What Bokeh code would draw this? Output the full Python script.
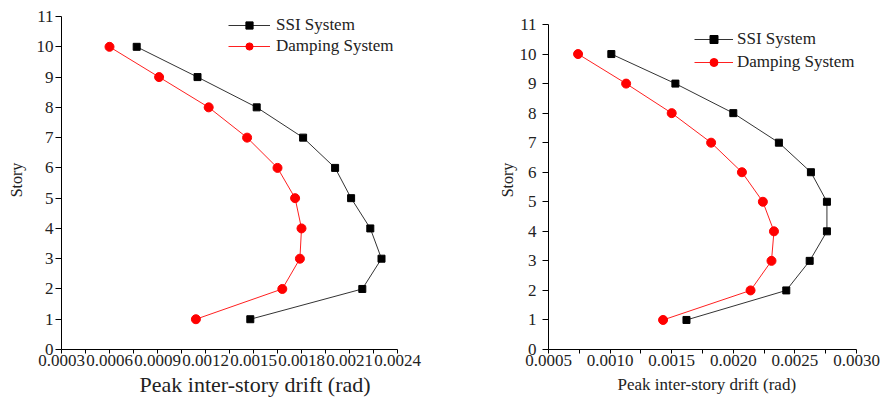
from bokeh.plotting import figure
from bokeh.layouts import row
from bokeh.models import FixedTicker, PrintfTickFormatter, Legend, LegendItem, Range1d, Title
from bokeh.embed import file_html
from bokeh.resources import INLINE

# ---------------- data ----------------
stories = [10, 9, 8, 7, 6, 5, 4, 3, 2, 1]

left_ssi = [0.00077, 0.00115, 0.00152, 0.00181, 0.00201, 0.00211, 0.00223, 0.00230, 0.00218, 0.00148]
left_damp = [0.00060, 0.00091, 0.00122, 0.00146, 0.00165, 0.00176, 0.00180, 0.00179, 0.00168, 0.00114]

right_ssi = [0.00101, 0.00153, 0.00200, 0.00237, 0.00263, 0.00276, 0.00276, 0.00262, 0.00243, 0.00162]
right_damp = [0.00074, 0.00113, 0.00150, 0.00182, 0.00207, 0.00224, 0.00233, 0.00231, 0.00214, 0.00143]

left_xticks = [0.0003, 0.0006, 0.0009, 0.0012, 0.0015, 0.0018, 0.0021, 0.0024]
left_xminor = [0.00045, 0.00075, 0.00105, 0.00135, 0.00165, 0.00195, 0.00225]
right_xticks = [0.0005, 0.0010, 0.0015, 0.0020, 0.0025, 0.0030]
right_xminor = [0.00075, 0.00125, 0.00175, 0.00225, 0.00275]
yticks = [0, 1, 2, 3, 4, 5, 6, 7, 8, 9, 10, 11]

series_names = ["SSI System", "Damping System"]
x_title = "Peak inter-story drift (rad)"
y_title = "Story"

FONT = "Liberation Serif"
TXT = "#222222"


def make_chart(width, border_left, border_right, xr, ytop, xticks, xminor, ssi, damp,
               y_title_standoff, y_label_standoff, title_offset, title_size, title_standoff,
               title_lh, legend_loc, glyph_w, glyph_h, legend_spacing, label_standoff):
    p = figure(width=width, height=398, output_backend="svg", toolbar_location=None,
               x_range=Range1d(*xr), y_range=Range1d(0, ytop),
               min_border_left=border_left, min_border_right=border_right,
               min_border_top=10, min_border_bottom=49)
    p.outline_line_color = None
    p.grid.visible = False
    p.background_fill_color = "white"
    p.border_fill_color = "white"

    # x axis
    xa = p.xaxis[0]
    xa.ticker = FixedTicker(ticks=xticks, minor_ticks=xminor)
    xa.formatter = PrintfTickFormatter(format="%.4f")
    xa.major_tick_out = 4
    xa.major_tick_in = 0
    xa.minor_tick_out = 4
    xa.minor_tick_in = 0
    xa.major_label_standoff = 1
    xa.major_label_text_font = FONT
    xa.major_label_text_font_size = "17px"
    xa.major_label_text_color = TXT
    xa.axis_line_color = "black"
    xa.major_tick_line_color = "black"
    xa.minor_tick_line_color = "black"

    # x title as a below-panel title (offset like the reference)
    t = Title(text=x_title, align="left", offset=title_offset, text_font=FONT,
              text_font_style="normal", text_font_size=title_size, text_color=TXT,
              standoff=title_standoff, text_line_height=title_lh)
    p.add_layout(t, "below")

    # y axis
    ya = p.yaxis[0]
    ya.ticker = FixedTicker(ticks=yticks)
    ya.bounds = (0, 11)
    ya.major_tick_out = 6
    ya.major_tick_in = 0
    ya.minor_tick_line_color = None
    ya.major_label_standoff = y_label_standoff
    ya.major_label_text_font = FONT
    ya.major_label_text_font_size = "17px"
    ya.major_label_text_color = TXT
    ya.axis_label = y_title
    ya.axis_label_text_font = FONT
    ya.axis_label_text_font_style = "normal"
    ya.axis_label_text_font_size = "16px"
    ya.axis_label_text_color = TXT
    ya.axis_label_standoff = y_title_standoff
    ya.axis_line_color = "black"
    ya.major_tick_line_color = "black"

    l1 = p.line(ssi, stories, line_color="#333333", line_width=1)
    m1 = p.scatter(ssi, stories, marker="square", size=7, fill_color="black", line_color="black")
    l2 = p.line(damp, stories, line_color="#ff2020", line_width=1)
    m2 = p.scatter(damp, stories, marker="circle", size=9, fill_color="red", line_color="red")

    legend = Legend(items=[LegendItem(label=series_names[0], renderers=[l1, m1]),
                           LegendItem(label=series_names[1], renderers=[l2, m2])],
                    location=legend_loc, border_line_color=None, background_fill_alpha=0,
                    padding=0, margin=0, spacing=legend_spacing, glyph_width=glyph_w,
                    glyph_height=glyph_h, label_standoff=label_standoff, label_text_font=FONT,
                    label_text_font_size="17px", label_text_color=TXT,
                    label_height=glyph_h)
    p.add_layout(legend, "center")
    return p


left = make_chart(450, 61, 53, (0.0003, 0.0024), 11.2, left_xticks, left_xminor,
                  left_ssi, left_damp, 9, 2, 78, "22px", 3, 0.8, (167, 293), 42, 18, 1, 6)
right = make_chart(440, 98, 34, (0.0005, 0.0030), 11.474, right_xticks, right_xminor,
                   right_ssi, right_damp, 1, 6, 69, "17px", 8, 1.0, (146, 277), 39, 20, 3, 4)

layout = row(left, right, spacing=0)
open("out.html", "w").write(file_html(layout, INLINE))
